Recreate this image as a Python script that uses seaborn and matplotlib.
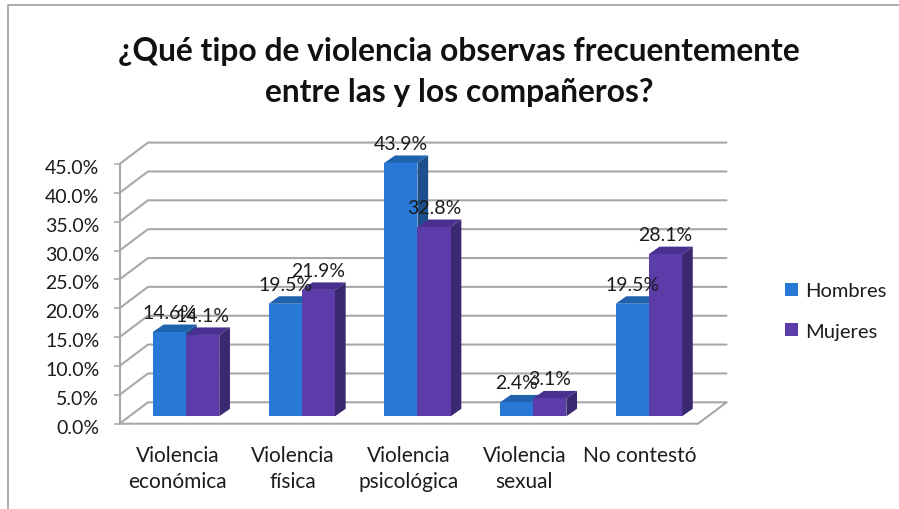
import matplotlib
matplotlib.use("Agg")
import matplotlib.pyplot as plt
from matplotlib.lines import Line2D
from matplotlib.patches import Polygon, Patch
from matplotlib.transforms import Affine2D
import pandas as pd
import seaborn as sns

categories = ["Violencia\neconómica", "Violencia\nfísica", "Violencia\npsicológica", "Violencia\nsexual", "No contestó"]
hombres = [14.6, 19.5, 43.9, 2.4, 19.5]
mujeres = [14.1, 21.9, 32.8, 3.1, 28.1]
series_names = ["Hombres", "Mujeres"]
y_ticks = [0, 5, 10, 15, 20, 25, 30, 35, 40, 45]
title = "¿Qué tipo de violencia observas frecuentemente\nentre las y los compañeros?"

sns.set_theme(style="white")
plt.rcParams["font.family"] = ["Lato", "DejaVu Sans"]
TXT = "#1c1c1c"

W, H = 899, 510
fig = plt.figure(figsize=(W / 100, H / 100), dpi=100, facecolor="white")
L, R, T, B = 119.5, 698, 165, 424.7
ax = fig.add_axes([L / W, 1 - B / H, (R - L) / W, (B - T) / H])
ax.patch.set_alpha(0)

df = pd.DataFrame({
    "categoria": categories * 2,
    "sexo": [series_names[0]] * len(categories) + [series_names[1]] * len(categories),
    "valor": hombres + mujeres,
})
front = {"Hombres": "#2878D8", "Mujeres": "#5B3CA9"}
top = {"Hombres": "#1F62AE", "Mujeres": "#4A3090"}
side = {"Hombres": "#1C4F8C", "Mujeres": "#3A2870"}
sns.barplot(data=df, x="categoria", y="valor", hue="sexo", palette=front, width=0.574, gap=0,
            saturation=1, errorbar=None, ax=ax, legend=False, linewidth=0, edgecolor="none")
ax.set_xlim(-0.5, 4.5)
ax.set_ylim(0, 45)
ax.set_xlabel("")
ax.set_ylabel("")
sns.despine(ax=ax, top=True, right=True, bottom=True, left=True)

px_x = (R - L) / 5
px_y = (B - T) / 45
wall_dx, wall_dy = 28.5 / px_x, 21.4 / px_y
bar_dx, bar_dy = 10.7 / px_x, 7.5 / px_y
offset = ax.transData + Affine2D().translate(8.7, 7.4)

# walls and gridlines
GRID = "#A8A8A8"
for v in y_ticks:
    ax.add_line(Line2D([-0.5, -0.5 + wall_dx, 4.5 + wall_dx], [v, v + wall_dy, v + wall_dy],
                       color=GRID, lw=1.5, clip_on=False, zorder=1))
ax.add_line(Line2D([-0.5, -0.5], [0, 45], color=GRID, lw=1.5, clip_on=False, zorder=1))
ax.add_line(Line2D([-0.5, 4.5, 4.5 + wall_dx], [0, 0, wall_dy], color=GRID, lw=1.5, clip_on=False, zorder=1))

for k, (name, cont) in enumerate(zip(series_names, ax.containers)):
    zbase = 3 + 2 * k
    for rect, val in zip(cont.patches, hombres if k == 0 else mujeres):
        rect.set_transform(offset)
        rect.set_zorder(zbase + 1)
        rect.set_clip_on(False)
        x0, x1, h = rect.get_x(), rect.get_x() + rect.get_width(), rect.get_height()
        ax.add_patch(Polygon([(x0, h), (x1, h), (x1 + bar_dx, h + bar_dy), (x0 + bar_dx, h + bar_dy)],
                             closed=True, fc=top[name], ec="none", transform=offset, zorder=zbase, clip_on=False))
        ax.add_patch(Polygon([(x1, 0), (x1 + bar_dx, bar_dy), (x1 + bar_dx, h + bar_dy), (x1, h)],
                             closed=True, fc=side[name], ec="none", transform=offset, zorder=zbase, clip_on=False))
        ax.annotate(f"{val:.1f}%", xy=((x0 + x1) / 2, h), xycoords=offset, xytext=(0, 14.2),
                    textcoords="offset points", ha="center", va="center", fontsize=14, color=TXT,
                    zorder=20, annotation_clip=False)

ax.set_yticks(y_ticks)
ax.set_yticklabels([f"{v:.1f}%" for v in y_ticks], fontsize=14, color=TXT)
ax.tick_params(axis="y", left=True, length=4.5, width=1.1, color=GRID, pad=10)
ax.tick_params(axis="x", bottom=False, pad=9)
ax.set_xticks(range(len(categories)))
ax.set_xticklabels(categories, fontsize=15, color=TXT, linespacing=1.4)
for lab in ax.get_yticklabels():
    lab.set_transform(lab.get_transform() + Affine2D().translate(0, -2))

handles = [Patch(fc=front[n], ec="none", label=n) for n in series_names]
fig.legend(handles=handles, loc="center left", bbox_to_anchor=(785 / W, 1 - 312 / H), frameon=False,
           fontsize=14.5, labelcolor=TXT, handlelength=0.65, handleheight=0.65, handletextpad=0.33,
           labelspacing=1.15, borderpad=0, borderaxespad=0)

fig.text(459 / W, 1 - 72 / H, title, ha="center", va="center", fontsize=22.9, fontweight="bold",
         color="#111111", linespacing=1.47)

fig.add_artist(Line2D([8 / W, 8 / W, 1], [0, 1 - 6 / H, 1 - 6 / H], color="#A0A0A0", lw=1.2, transform=fig.transFigure))

fig.savefig("out.png", dpi=100, facecolor="white")
